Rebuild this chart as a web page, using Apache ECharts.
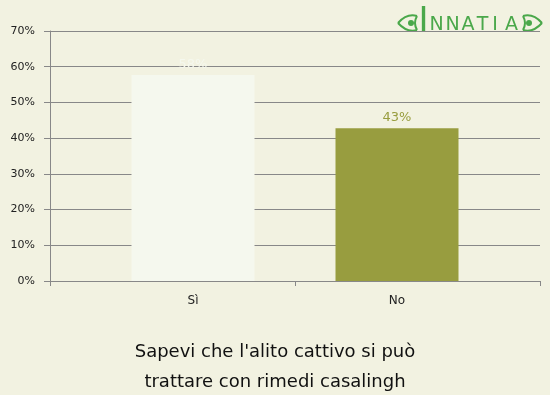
<!DOCTYPE html>
<html><head><meta charset="utf-8">
<script src="https://cdn.jsdelivr.net/npm/echarts@6/dist/echarts.min.js"></script>
<style>html,body{margin:0;padding:0;background:#f2f2e1;}#c{width:550px;height:395px;}</style>
</head><body><div id="c"></div>
<script>
var categories = ['Sì', 'No'];
var values = [57.7, 42.8];
var barColors = ['#f5f8ee', '#989d3f'];
var labelColors = ['#f5f8ee', '#989d3f'];
var yTicks = [0, 10, 20, 30, 40, 50, 60, 70];
var titleLines = ["Sapevi che l'alito cattivo si può", 'trattare con rimedi casalingh'];

var font = 'DejaVu Sans, Verdana, sans-serif';
var green = '#4aa84a';
var chart = echarts.init(document.getElementById('c'), null, {renderer: 'canvas'});

function curve(x1, y1, cx, cy, x2, y2) {
  return {type: 'bezierCurve', shape: {x1: x1, y1: y1, x2: x2, y2: y2, cpx1: cx, cpy1: cy},
    style: {fill: 'none', stroke: green, lineWidth: 2}};
}
var logoLetters = ['N', 'N', 'A', 'T', 'I', 'A'];
var logoX = [436.5, 452.5, 468, 482.5, 495, 511.5];
var graphics = [
  curve(398, 23, 407, 13, 417, 16), curve(417, 16, 413, 23, 417, 30), curve(417, 30, 407, 33, 398, 23),
  {type: 'circle', shape: {cx: 411, cy: 23, r: 3}, style: {fill: green}},
  curve(542, 23, 533, 13, 523, 16), curve(523, 16, 527, 23, 523, 30), curve(523, 30, 533, 33, 542, 23),
  {type: 'circle', shape: {cx: 529, cy: 23, r: 3}, style: {fill: green}},
  {type: 'text', x: 423.5, y: 5, style: {text: 'I', fill: green, font: '34px DejaVu Sans', textAlign: 'center', textVerticalAlign: 'top'}}
];
logoLetters.forEach(function (ch, i) {
  graphics.push({type: 'text', x: logoX[i], y: 16,
    style: {text: ch, fill: green, font: '19px DejaVu Sans', textAlign: 'center', textVerticalAlign: 'top'}});
});

var option = {
  backgroundColor: '#f2f2e1',
  animation: false,
  grid: [
    {left: 50, right: 10, top: 31, bottom: 114},
    {left: 91, right: 51, top: 31, bottom: 114}
  ],
  xAxis: [
    {gridIndex: 0, type: 'value', min: 0, max: 2, interval: 1,
     axisLine: {show: true, lineStyle: {color: '#888', width: 1}},
     axisTick: {show: true, length: 5, lineStyle: {color: '#888'}},
     axisLabel: {show: false}, splitLine: {show: false}},
    {gridIndex: 1, type: 'category', data: categories,
     axisLine: {show: false}, axisTick: {show: false},
     axisLabel: {color: '#222', fontSize: 12, fontFamily: font, margin: 14}}
  ],
  yAxis: [
    {gridIndex: 0, type: 'value', min: yTicks[0], max: yTicks[yTicks.length - 1], interval: 10,
     axisLine: {show: true, lineStyle: {color: '#888'}},
     axisTick: {show: true, length: 6, lineStyle: {color: '#888'}},
     axisLabel: {color: '#222', fontSize: 11, fontFamily: font, margin: 15, formatter: '{value}%'},
     splitLine: {show: true, lineStyle: {color: '#888', width: 1}}},
    {gridIndex: 1, type: 'value', min: yTicks[0], max: yTicks[yTicks.length - 1], interval: 10, show: false}
  ],
  series: [{
    type: 'bar', xAxisIndex: 1, yAxisIndex: 1,
    barWidth: 123,
    data: values.map(function (v, i) {
      return {value: v, itemStyle: {color: barColors[i]},
        label: {color: labelColors[i]}};
    }),
    label: {show: true, position: 'top', distance: 4, fontSize: 13, fontFamily: font,
      formatter: function (p) { return Math.round(p.value) + '%'; }}
  }],
  title: {
    text: titleLines.join('\n'), left: 'center', top: 332,
    textStyle: {color: '#111', fontSize: 18, fontWeight: 'normal', fontFamily: font, lineHeight: 30}
  },
  graphic: graphics
};
chart.setOption(option);
</script></body></html>
